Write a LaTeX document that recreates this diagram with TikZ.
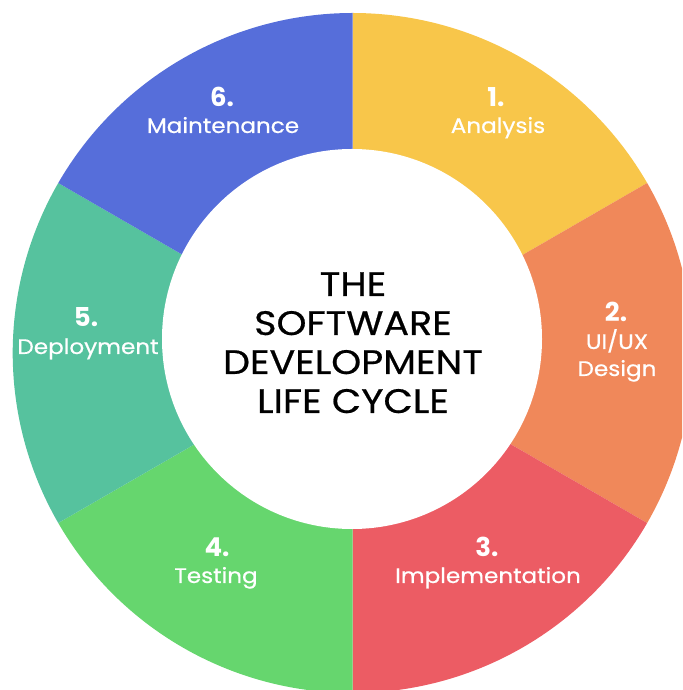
\documentclass[tikz,border=0pt]{standalone}
\usepackage{fontspec}
\usepackage{graphicx}
\setmainfont{Poppins}
\newfontfamily\popmed[FakeBold=0.5]{Poppins}
\newcommand{\wlab}[1]{\scalebox{1.1}[1]{#1}}
\newcommand{\wttl}[1]{\scalebox{1.12}[1]{#1}}
\begin{document}
\begin{tikzpicture}[x=1pt,y=1pt,
  num/.style={text=white,anchor=base,inner sep=0pt,font=\bfseries\fontsize{26}{26}\selectfont},
  lab/.style={text=white,anchor=base,inner sep=0pt,font=\popmed\fontsize{21}{21}\selectfont},
  ttl/.style={text=black,anchor=base,inner sep=0pt,font=\popmed\fontsize{34}{34}\selectfont}]
\definecolor{cyellow}{RGB}{248,198,74}
\definecolor{corange}{RGB}{240,136,90}
\definecolor{cred}{RGB}{236,92,100}
\definecolor{cgreen}{RGB}{102,214,110}
\definecolor{cteal}{RGB}{86,194,158}
\definecolor{cblue}{RGB}{86,110,218}
\useasboundingbox (0,0) rectangle (682,690);
\clip (0,0) rectangle (682,690);
\coordinate (O) at (352.7,337);
\coordinate (I) at (352,351);
\foreach \a/\b/\c in {30/90/cyellow,-30/30/corange,-90/-30/cred,-150/-90/cgreen,150/210/cteal,90/150/cblue}
  \fill[\c] (O) -- ++(\a:340) arc[start angle=\a,end angle=\b,radius=340] -- cycle;
\fill[white] (I) circle[radius=190];
% titles
\node[ttl] (t1) at (353,394) {\wttl{THE}};
\node[ttl] (t2) at (353,355) {\wttl{SOFTWARE}};
\node[ttl] (t3) at (353,316) {\wttl{DEVELOPMENT}};
\node[ttl] (t4) at (353,277) {\wttl{LIFE CYCLE}};
% 1
\node[num] (n1) at (496,583) {1.};
\node[lab] (l1) at (498,557) {\wlab{Analysis}};
% 2
\node[num] (n2) at (616,368) {2.};
\node[lab] (l2a) at (617,341) {\wlab{UI/UX}};
\node[lab] (l2b) at (617,314) {\wlab{Design}};
% 3
\node[num] (n3) at (487,133) {3.};
\node[lab] (l3) at (488,107) {\wlab{Implementation}};
% 4
\node[num] (n4) at (217,133) {4.};
\node[lab] (l4) at (216,107) {\wlab{Testing}};
% 5
\node[num] (n5) at (86,363) {5.};
\node[lab] (l5) at (88,336) {\wlab{Deployment}};
% 6
\node[num] (n6) at (222,583) {6.};
\node[lab] (l6) at (223,557) {\wlab{Maintenance}};
\end{tikzpicture}
\end{document}
